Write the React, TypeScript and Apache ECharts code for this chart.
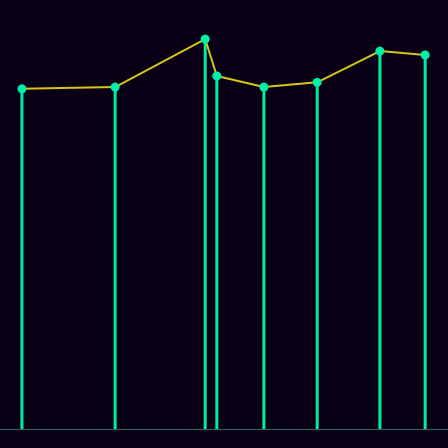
import React, { useEffect, useRef } from 'react';
import * as echarts from 'echarts';

// x positions (relative units) and values for each sample
const xs = [4.9, 25.7, 45.8, 48.4, 58.9, 70.8, 84.8, 94.9];
const values = [79.3, 79.7, 90.9, 82.3, 79.7, 80.8, 88.1, 87.2];

const App: React.FC = () => {
  const chartRef = useRef<HTMLDivElement | null>(null);

  useEffect(() => {
    if (!chartRef.current) return;
    const chart = echarts.init(chartRef.current, undefined, { renderer: 'svg' });
    const pts = xs.map((x, i) => [x, values[i]]);

    chart.setOption({
      animation: false,
      backgroundColor: '#0a0016',
      grid: { left: 0, right: 0, top: 0, bottom: 19 },
      xAxis: {
        type: 'value',
        min: 0,
        max: 100,
        axisLine: { show: true, lineStyle: { color: '#2a6b66', width: 1 } },
        axisTick: { show: false },
        axisLabel: { show: false },
        splitLine: { show: false },
      },
      yAxis: {
        type: 'value',
        min: 0,
        max: 100,
        axisLine: { show: false },
        axisTick: { show: false },
        axisLabel: { show: false },
        splitLine: { show: false },
      },
      series: [
        {
          type: 'bar',
          data: pts,
          barWidth: 3,
          itemStyle: { color: '#00eea0' },
          z: 2,
        },
        {
          type: 'line',
          data: pts,
          symbol: 'circle',
          symbolSize: 9,
          lineStyle: { color: '#d4c41c', width: 2 },
          itemStyle: { color: '#00f0a8' },
          z: 3,
        },
      ],
    });

    return () => {
      chart.dispose();
    };
  }, []);

  return (
    <div
      ref={chartRef}
      style={{ position: 'fixed', left: 0, top: 0, width: '448px', height: '448px' }}
    />
  );
};

export default App;
